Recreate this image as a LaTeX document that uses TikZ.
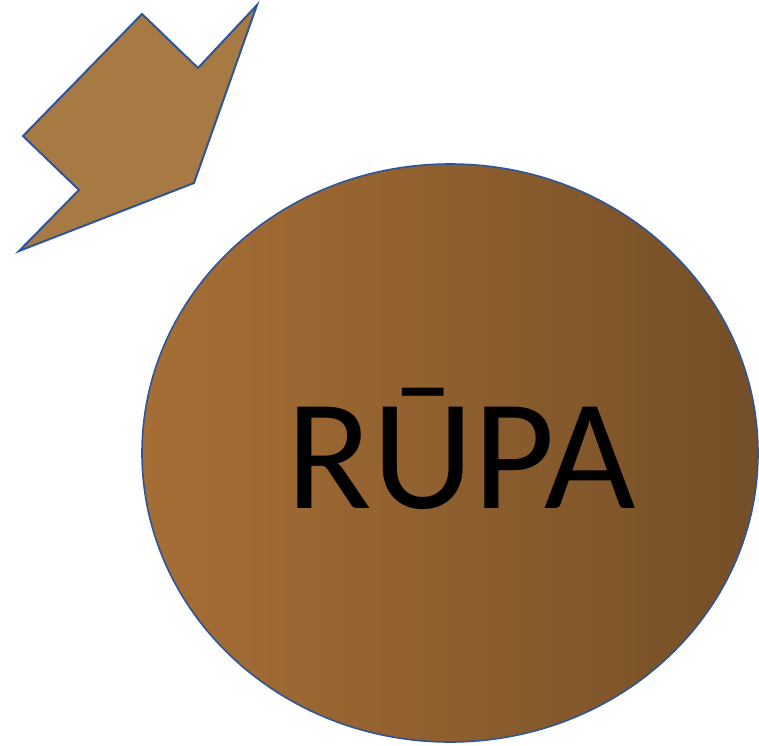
\documentclass[tikz,border=0pt]{standalone}
\usepackage{fontspec}
\setmainfont{Carlito}
\usepackage{xcolor}
\definecolor{rupaline}{RGB}{47, 85, 151}
\definecolor{rupaarrow}{RGB}{168, 122, 67}
\definecolor{rupaleft}{RGB}{178, 122, 61}
\definecolor{rupamid}{RGB}{160, 106, 51}
\definecolor{ruparight}{RGB}{90, 62, 32}
\pgfdeclarehorizontalshading{rupagrad}{100bp}{color(0bp)=(rupaleft); color(33bp)=(rupamid); color(100bp)=(ruparight)}

\begin{document}
\begin{tikzpicture}[x=1pt,y=-1pt,
    outline/.style={draw=rupaline, line width=2pt, line join=miter}]
    \useasboundingbox (0,0) rectangle (759,745);

    % Notched arrow pointing down-left
    \draw[outline, fill=rupaarrow]
        (142,14) -- (198,68) -- (257,5) -- (194,183) -- (19,251)
        -- (79,190) -- (23,136) -- cycle;

    % Body
    \shade[shading=rupagrad, draw=rupaline, line width=1.6pt]
        (450,453) ellipse [x radius=308, y radius=289];

    \node[anchor=base, inner sep=0pt, font=\fontsize{158}{158}\selectfont] (rupa) at (461,508) {RŪPA};
\end{tikzpicture}
\end{document}
